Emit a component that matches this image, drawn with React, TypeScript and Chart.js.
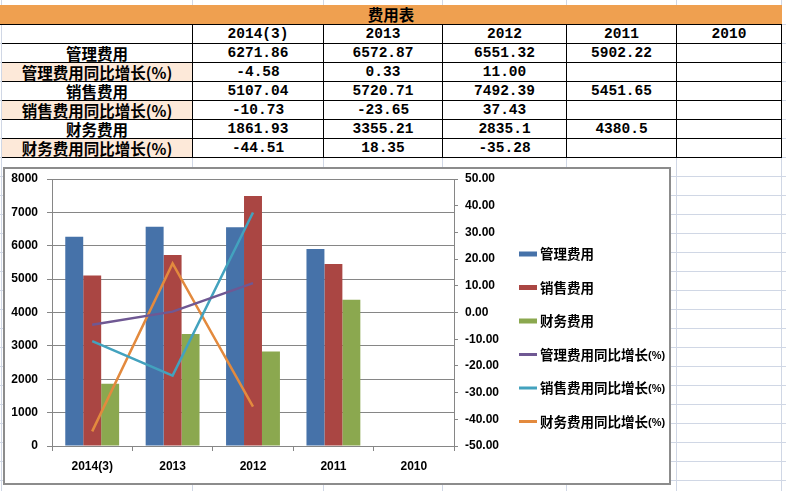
import React, { useEffect, useRef } from 'react';
import { Chart, registerables } from 'chart.js';

Chart.register(...registerables);

// ---------- data ----------
const tableTitle = '费用表';
const categories = ['2014(3)', '2013', '2012', '2011', '2010'];
const mgmtExpense = [6271.86, 6572.87, 6551.32, 5902.22, null];
const mgmtGrowth = [-4.58, 0.33, 11.0, null, null];
const salesExpense = [5107.04, 5720.71, 7492.39, 5451.65, null];
const salesGrowth = [-10.73, -23.65, 37.43, null, null];
const finExpense = [1861.93, 3355.21, 2835.1, 4380.5, null];
const finGrowth = [-44.51, 18.35, -35.28, null, null];
const seriesNames = [
  '管理费用',
  '管理费用同比增长(%)',
  '销售费用',
  '销售费用同比增长(%)',
  '财务费用',
  '财务费用同比增长(%)',
];
const leftAxis = { min: 0, max: 8000, step: 1000 };
const rightAxis = { min: -50, max: 50, step: 10 };

// ---------- styling ----------
const barColors = ['#4672A9', '#AA4643', '#8BA84F'];
const lineColors = ['#6F5893', '#43A2BE', '#E38A3E'];
const gridGray = '#868686';
const sheetLine = '#D0D7E5';
const colX = [0, 192, 323, 442, 566, 676, 781];

type Row = { label: string; values: (number | null)[]; pct: boolean };
const tableRows: Row[] = [
  { label: seriesNames[0], values: mgmtExpense, pct: false },
  { label: seriesNames[1], values: mgmtGrowth, pct: true },
  { label: seriesNames[2], values: salesExpense, pct: false },
  { label: seriesNames[3], values: salesGrowth, pct: true },
  { label: seriesNames[4], values: finExpense, pct: false },
  { label: seriesNames[5], values: finGrowth, pct: true },
];

const fmt = (v: number | null, pct: boolean) =>
  v === null ? '' : pct ? v.toFixed(2) : String(v);

function Cell(props: { r: number; c: number; text: string; shaded?: boolean }) {
  const { r, c, text, shaded } = props;
  const left = c === 0 ? 2 : colX[c] + 1;
  const width = colX[c + 1] - left + 1;
  return (
    <div
      style={{
        position: 'absolute',
        left,
        top: 25 + r * 19,
        width,
        height: 19,
        boxSizing: 'border-box',
        borderRight: '1px solid #000',
        borderBottom: '1px solid #000',
        background: shaded ? '#FDE9D9' : '#fff',
        textAlign: 'center',
        lineHeight: '18px',
        fontWeight: 'bold',
        fontSize: c === 0 ? 15.5 : 14.5,
        fontFamily: c === 0 ? '"Noto Sans CJK SC"' : '"Liberation Mono", "Noto Sans CJK SC"',
        whiteSpace: 'nowrap',
        overflow: 'hidden',
        color: '#000',
      }}
    >
      {text}
    </div>
  );
}

export default function App() {
  const canvasRef = useRef<HTMLCanvasElement>(null);

  useEffect(() => {
    const canvas = canvasRef.current;
    if (!canvas) return;

    const legendPlugin = {
      id: 'sideLegend',
      afterDraw(chart: any) {
        const c = chart.ctx;
        const area = chart.chartArea;
        const x0 = area.right + 65;
        const y0 = area.top + 75;
        const step = 33.5;
        chart.data.datasets.forEach((ds: any, i: number) => {
          const y = y0 + i * step;
          c.save();
          const isLine = ds.type === 'line';
          c.fillStyle = isLine ? ds.borderColor : ds.backgroundColor;
          const h = isLine ? 3 : 5;
          c.fillRect(x0, y - h / 2, 18, h);
          let tx = x0 + 21;
          c.textBaseline = 'middle';
          c.textAlign = 'left';
          c.fillStyle = '#000';
          for (const ch of ds.label as string) {
            const ascii = ch.charCodeAt(0) < 128;
            c.font = ascii ? 'bold 11px "Liberation Sans"' : 'bold 13.5px "Noto Sans CJK SC"';
            c.fillText(ch, tx, y + (ascii ? 1 : 0));
            tx += c.measureText(ch).width;
          }
          c.restore();
        });
      },
    };

    const axisFont = { family: '"Liberation Sans", Arial, sans-serif', size: 12, weight: 'bold' as const };

    const chart = new Chart(canvas, {
      type: 'bar',
      data: {
        labels: categories,
        datasets: [
          { type: 'bar', label: seriesNames[0], data: mgmtExpense, backgroundColor: barColors[0], yAxisID: 'y', order: 2, categoryPercentage: 0.67, barPercentage: 1, borderWidth: 0 },
          { type: 'bar', label: seriesNames[2], data: salesExpense, backgroundColor: barColors[1], yAxisID: 'y', order: 2, categoryPercentage: 0.67, barPercentage: 1, borderWidth: 0 },
          { type: 'bar', label: seriesNames[4], data: finExpense, backgroundColor: barColors[2], yAxisID: 'y', order: 2, categoryPercentage: 0.67, barPercentage: 1, borderWidth: 0 },
          { type: 'line', label: seriesNames[1], data: mgmtGrowth, borderColor: lineColors[0], backgroundColor: lineColors[0], borderWidth: 2.5, pointRadius: 0, yAxisID: 'y1', order: 1, tension: 0 },
          { type: 'line', label: seriesNames[3], data: salesGrowth, borderColor: lineColors[1], backgroundColor: lineColors[1], borderWidth: 2.5, pointRadius: 0, yAxisID: 'y1', order: 1, tension: 0 },
          { type: 'line', label: seriesNames[5], data: finGrowth, borderColor: lineColors[2], backgroundColor: lineColors[2], borderWidth: 2.5, pointRadius: 0, yAxisID: 'y1', order: 1, tension: 0 },
        ] as any,
      },
      options: {
        responsive: false,
        animation: false,
        layout: { padding: { top: 10, left: 0, right: 0, bottom: 0 } },
        plugins: { legend: { display: false }, tooltip: { enabled: false } },
        scales: {
          x: {
            grid: { display: true, drawOnChartArea: false, offset: true, tickLength: 5, color: gridGray },
            border: { color: gridGray },
            ticks: { font: axisFont, color: '#000', padding: 8, maxRotation: 0 },
            afterFit(s: any) { s.height = 37; s.paddingLeft = 0; s.paddingRight = 0; },
          },
          y: {
            position: 'left',
            min: leftAxis.min,
            max: leftAxis.max,
            ticks: { stepSize: leftAxis.step, font: axisFont, color: '#000', padding: 9, callback: (v: any) => String(v) },
            grid: { color: gridGray, tickLength: 5 },
            border: { color: gridGray },
            afterFit(s: any) { s.width = 47; s.paddingTop = 0; s.paddingBottom = 0; },
          },
          y1: {
            position: 'right',
            min: rightAxis.min,
            max: rightAxis.max,
            ticks: { stepSize: rightAxis.step, font: axisFont, color: '#000', padding: 7, callback: (v: any) => Number(v).toFixed(2) },
            grid: { drawOnChartArea: false, tickLength: 4, color: gridGray },
            border: { color: gridGray },
            afterFit(s: any) { s.width = 215; s.paddingTop = 0; s.paddingBottom = 0; },
          },
        },
      } as any,
      plugins: [legendPlugin],
    });
    return () => chart.destroy();
  }, []);

  const vLines = [1, ...colX.slice(1)];

  return (
    <div
      style={{
        position: 'fixed',
        left: 0,
        top: 0,
        width: 786,
        height: 491,
        overflow: 'hidden',
        background: '#fff',
        backgroundImage: `repeating-linear-gradient(to bottom, transparent 0px, transparent 18px, ${sheetLine} 18px, ${sheetLine} 19px)`,
        backgroundPosition: '0px 6px',
      }}
    >
      {vLines.map((x, i) => (
        <div key={'v' + i} style={{ position: 'absolute', left: x, top: 0, width: 1, height: 491, background: sheetLine }} />
      ))}
      {/* title band */}
      <div
        style={{
          position: 'absolute',
          left: 0,
          top: 5,
          width: 782,
          height: 20,
          boxSizing: 'border-box',
          borderBottom: '1px solid #000',
          background: '#EFA050',
          textAlign: 'center',
          lineHeight: '19px',
          fontWeight: 'bold',
          fontSize: 15.5,
          fontFamily: '"Noto Sans CJK SC"',
          color: '#000',
        }}
      >
        {tableTitle}
      </div>
      {/* header row */}
      <Cell r={0} c={0} text="" />
      {categories.map((cat, i) => (
        <Cell key={'h' + i} r={0} c={i + 1} text={cat} />
      ))}
      {tableRows.map((row, ri) => (
        <React.Fragment key={'r' + ri}>
          <Cell r={ri + 1} c={0} text={row.label} shaded={row.pct} />
          {row.values.map((v, ci) => (
            <Cell key={'c' + ri + '_' + ci} r={ri + 1} c={ci + 1} text={fmt(v, row.pct)} />
          ))}
        </React.Fragment>
      ))}
      {/* chart box */}
      <div
        style={{
          position: 'absolute',
          left: 3,
          top: 167,
          width: 668,
          height: 318,
          boxSizing: 'border-box',
          border: '2px solid #8C8C8C',
          background: '#fff',
        }}
      >
        <canvas ref={canvasRef} width={664} height={314} style={{ display: 'block' }} />
      </div>
    </div>
  );
}
